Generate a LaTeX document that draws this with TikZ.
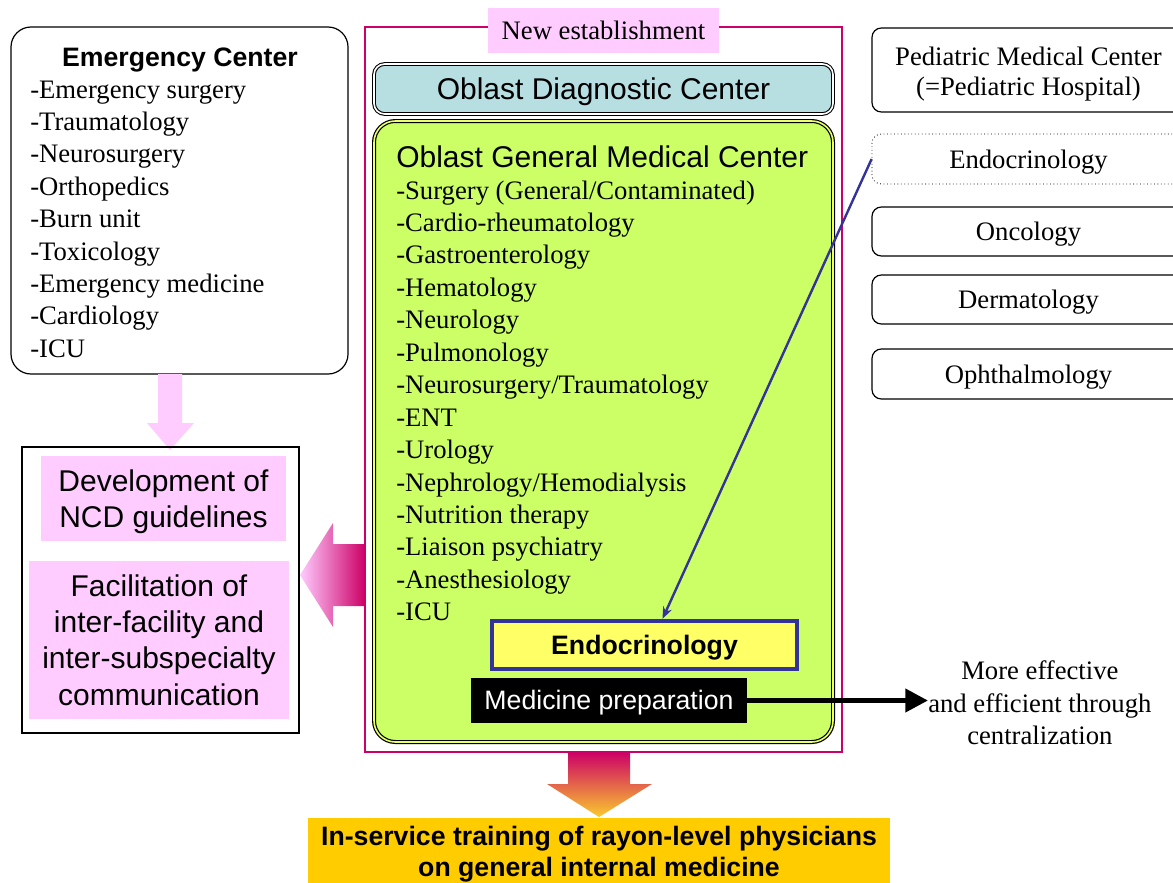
\documentclass[tikz,border=0pt]{standalone}
\usepackage{fontspec}
\setmainfont{Liberation Serif}
\newfontfamily\arial{Liberation Sans}
\usetikzlibrary{arrows.meta,positioning,fit,calc}
\definecolor{pnk}{HTML}{FFCCFF}
\definecolor{mag}{HTML}{CC0066}
\definecolor{dgc}{HTML}{B7DEE0}
\definecolor{lim}{HTML}{CCFF66}
\definecolor{ylw}{HTML}{FFFF66}
\definecolor{blu}{HTML}{333399}
\definecolor{org}{HTML}{FFCC00}
\definecolor{amid}{HTML}{E8804F}
\definecolor{abot}{HTML}{FACA2E}
\tikzset{
  wh/.style 2 args={minimum width=#1*0.75pt,minimum height=#2*0.75pt},
  txt/.style={inner sep=0pt,font=\fontsize{20}{24.3}\selectfont},
  hd/.style={inner sep=0pt,font=\arial\fontsize{22.5}{27.2}\selectfont},
  hdb/.style={inner sep=0pt,font=\arial\bfseries\fontsize{20}{24}\selectfont},
  ln20/.style={text height=18pt,text depth=4.4pt},
  ln22/.style={text height=20.4pt,text depth=4.8pt},
  rbox/.style={txt,ln20,draw,line width=0.9pt,rounded corners=7pt},
}

\begin{document}
\begin{tikzpicture}[x=0.75pt,y=-0.75pt]
\path[use as bounding box,clip] (0,0) rectangle (1173,882);
% EMERGENCY CENTER
\node[inner sep=0pt,draw,line width=0.9pt,rounded corners=15pt,fit={(11,27) (348,374)}] (emerg) {};
\node[hdb,anchor=base] (emtitle) at (180,66) {Emergency Center};
\foreach \t [count=\i from 0] in {Emergency surgery,Traumatology,Neurosurgery,Orthopedics,
  Burn unit,Toxicology,Emergency medicine,Cardiology,ICU}{
  \node[txt,anchor=base west] (em-\i) at (30,{98+32.4*\i}) {-\t};
}
\fill[pnk] (158,374) -- (182,374) -- (182,423) -- (194,423) -- (170,450)
  -- (147,423) -- (158,423) -- cycle;
% NCD
\node[inner sep=0pt,draw,line width=0.8pt,fit={(22,447) (299,733)}] (ncd) {};
\node[inner sep=0pt,fill=pnk,wh={245}{85}] (dev) at (163.5,498.5) {};
\node[hd,align=center] (devtxt) at (163.5,502) {Development of\\NCD guidelines};
\node[hd,fill=pnk,align=center,wh={260}{158}] (facil) at (159,640)
  {Facilitation of\\inter-facility and\\inter-subspecialty\\communication};
\shade[left color=pnk,right color=mag] (365,544) -- (333,544) -- (333,523) -- (300,575)
  -- (333,627) -- (333,606) -- (365,606) -- cycle;
% NEW ESTABLISHMENT
\node[inner sep=0pt,draw=mag,line width=0.8pt,fit={(365,27) (842,752)}] (frame) {};
\node[txt,ln20,fill=pnk,wh={231}{45}] (newest) at (603.5,30.5) {New establishment};
\node[hd,ln22,draw,line width=0.8pt,double=white,double distance=1.2pt,fill=dgc,
  rounded corners=8pt,wh={459}{50}] (diag) at (603.5,89) {Oblast Diagnostic Center};
\node[inner sep=0pt,draw,line width=0.9pt,double=ylw!60!lim,double distance=1.2pt,fill=lim,
  rounded corners=16pt,fit={(374,121) (833,742)}] (ogmc) {};
\node[hd,anchor=base west] (ogtitle) at (396,167) {Oblast General Medical Center};
\foreach \t [count=\i from 0] in {Surgery (General/Contaminated),Cardio-rheumatology,
  Gastroenterology,Hematology,Neurology,Pulmonology,Neurosurgery/Traumatology,ENT,Urology,
  Nephrology/Hemodialysis,Nutrition therapy,Liaison psychiatry,Anesthesiology,ICU}{
  \node[txt,anchor=base west] (og-\i) at (396,{199+32.45*\i}) {-\t};
}
\node[hdb,ln20,draw=blu,line width=3.2pt,fill=ylw,wh={305}{48}] (endoY) at (644.5,645) {Endocrinology};
\node[inner sep=0pt,ln20,fill=black,text=white,font=\arial\fontsize{20}{24}\selectfont,
  wh={276}{45}] (medprep) at (609,700.5) {Medicine preparation};
% TRAINING
\shade[top color=mag,middle color=amid,bottom color=abot] (568,752) -- (630,752) -- (630,784)
  -- (652,784) -- (599,817) -- (547,784) -- (568,784) -- cycle;
\node[inner sep=0pt,fill=org,align=center,font=\arial\bfseries\fontsize{20}{23}\selectfont,
  wh={582}{72}] (train) at (599,854)
  {In-service training of rayon-level physicians\\on general internal medicine};
% PEDIATRIC
\node[inner sep=0pt,draw,line width=0.9pt,rounded corners=7pt,wh={313}{84}] (pedi) at (1028.5,70) {};
\node[txt,align=center,font=\fontsize{20}{22.5}\selectfont] (peditxt) at (1028.5,74)
  {Pediatric Medical Center\\(=Pediatric Hospital)};
\node[txt,ln20,draw,line width=0.6pt,dotted,rounded corners=7pt,wh={313}{50}] (endoP) at (1028.5,159) {Endocrinology};
\foreach \nm/\t/\yy/\hh in {onco/Oncology/231.5/49,derm/Dermatology/299.5/49,opht/Ophthalmology/374/50}{
  \node[rbox,wh={313}{\hh}] (\nm) at (1028.5,\yy) {\t};
}
\draw[blu,line width=1.8pt,-{Stealth[length=9pt,width=7pt]}] (endoP.west) -- ([xshift=13.5pt]endoY.north);
% CENTRALIZATION
\node[txt,align=center,anchor=west] (eff) at (928,703) {More effective\\and efficient through\\centralization};
\draw[line width=3.8pt,-{Triangle[length=17pt,width=17pt]}] (medprep.east) -- (medprep.east -| eff.west);
\end{tikzpicture}
\end{document}
